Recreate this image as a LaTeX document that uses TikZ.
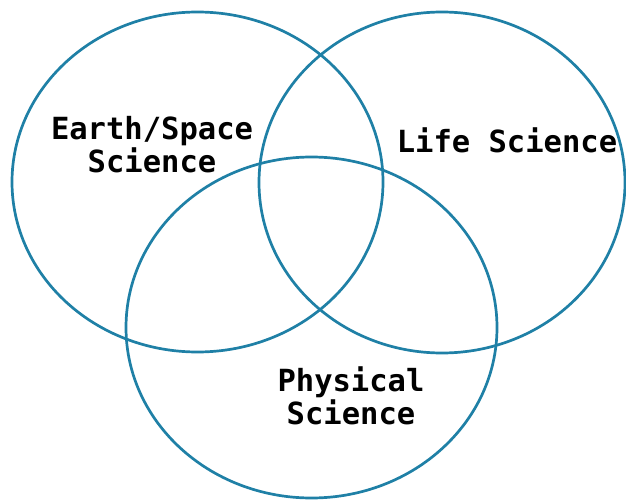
\documentclass[tikz,border=0pt]{standalone}
\usepackage{fontspec}
\newfontfamily\labelfont{DejaVu Sans Mono}
\usepackage{tikz}
\usetikzlibrary{positioning}
\definecolor{venncol}{RGB}{31,128,166}

\begin{document}
\begin{tikzpicture}[x=1pt, y=-1pt,
	circ/.style={draw=venncol, line width=2.7pt},
	lbl/.style={font=\labelfont\bfseries\fontsize{30.5}{33}\selectfont, align=center, text=black}]
	% Frame
	\useasboundingbox (0,0) rectangle (626,500);
	
	% Circles
	\draw[circ] (197.5,182) ellipse [x radius=185.5, y radius=170];
	\draw[circ] (442,182.5) ellipse [x radius=183, y radius=170.5];
	\draw[circ] (311.5,327.5) ellipse [x radius=185.5, y radius=170.5];
	
	% Labels
	\node[lbl] (earth) at (152,145) {Earth/Space\\Science};
	\node[lbl] (life) at (507,140) {Life Science};
	\node[lbl] (phys) at (351,396) {Physical\\Science};
	
\end{tikzpicture}
\end{document}
